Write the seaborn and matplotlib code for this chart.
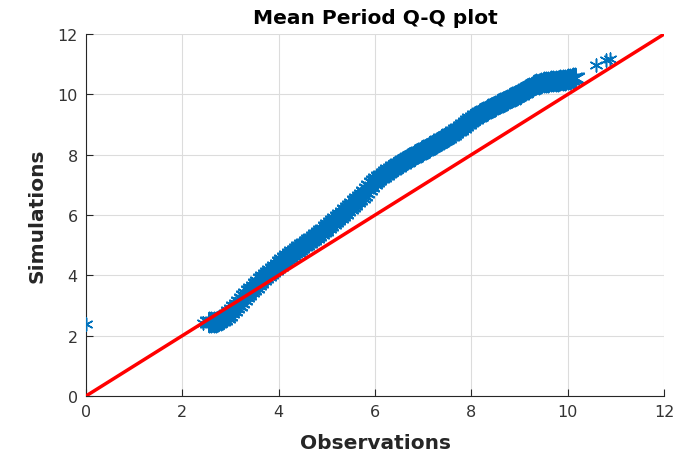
import matplotlib
matplotlib.use("Agg")
import matplotlib.pyplot as plt
import seaborn as sns
import pandas as pd

# Sorted quantiles of the mean period: observed vs simulated
observations = [
    0.00, 2.43, 2.55,
    2.60, 2.65, 2.70, 2.75, 2.80, 2.85, 2.90, 2.95, 3.00, 3.05,
    3.10, 3.15, 3.20, 3.25, 3.30, 3.35, 3.40, 3.45, 3.50, 3.55,
    3.60, 3.65, 3.70, 3.75, 3.80, 3.85, 3.90, 3.95, 4.00, 4.05,
    4.10, 4.15, 4.20, 4.25, 4.30, 4.35, 4.40, 4.45, 4.50, 4.55,
    4.60, 4.65, 4.70, 4.75, 4.80, 4.85, 4.90, 4.95, 5.00, 5.05,
    5.10, 5.15, 5.20, 5.25, 5.30, 5.35, 5.40, 5.45, 5.50, 5.55,
    5.60, 5.65, 5.70, 5.75, 5.80, 5.85, 5.90, 5.95, 6.00, 6.05,
    6.10, 6.15, 6.20, 6.25, 6.30, 6.35, 6.40, 6.45, 6.50, 6.55,
    6.60, 6.65, 6.70, 6.75, 6.80, 6.85, 6.90, 6.95, 7.00, 7.05,
    7.10, 7.15, 7.20, 7.25, 7.30, 7.35, 7.40, 7.45, 7.50, 7.55,
    7.60, 7.65, 7.70, 7.75, 7.80, 7.85, 7.90, 7.95, 8.00, 8.05,
    8.10, 8.15, 8.20, 8.25, 8.30, 8.35, 8.40, 8.45, 8.50, 8.55,
    8.60, 8.65, 8.70, 8.75, 8.80, 8.85, 8.90, 8.95, 9.00, 9.05,
    9.10, 9.15, 9.20, 9.25, 9.30, 9.35, 9.40, 9.45, 9.50, 9.55,
    9.60, 9.65, 9.70, 9.75, 9.80, 9.85, 9.90, 9.95, 10.00, 10.05,
    10.10, 10.15,
    10.58, 10.80, 10.88,
]
simulations = [
    2.40, 2.42, 2.44,
    2.44, 2.45, 2.46, 2.48, 2.52, 2.56, 2.62, 2.70, 2.78, 2.86,
    2.95, 3.03, 3.12, 3.21, 3.30, 3.38, 3.47, 3.55, 3.63, 3.71,
    3.79, 3.87, 3.94, 4.01, 4.08, 4.15, 4.22, 4.29, 4.36, 4.43,
    4.50, 4.56, 4.63, 4.70, 4.76, 4.82, 4.88, 4.94, 5.00, 5.05,
    5.11, 5.16, 5.22, 5.28, 5.34, 5.40, 5.46, 5.52, 5.59, 5.66,
    5.73, 5.80, 5.87, 5.94, 6.01, 6.08, 6.16, 6.23, 6.31, 6.38,
    6.46, 6.53, 6.61, 6.68, 6.76, 6.86, 6.97, 7.05, 7.12, 7.19,
    7.25, 7.31, 7.37, 7.43, 7.48, 7.53, 7.58, 7.63, 7.68, 7.73,
    7.78, 7.83, 7.88, 7.92, 7.97, 8.01, 8.06, 8.10, 8.15, 8.19,
    8.24, 8.28, 8.33, 8.37, 8.42, 8.46, 8.51, 8.55, 8.60, 8.65,
    8.70, 8.75, 8.81, 8.87, 8.93, 8.99, 9.05, 9.11, 9.17, 9.23,
    9.28, 9.33, 9.37, 9.42, 9.46, 9.51, 9.55, 9.59, 9.63, 9.67,
    9.71, 9.75, 9.79, 9.83, 9.87, 9.91, 9.95, 9.99, 10.03, 10.08,
    10.12, 10.17, 10.21, 10.26, 10.30, 10.33, 10.36, 10.38, 10.40, 10.41,
    10.42, 10.43, 10.44, 10.45, 10.46, 10.47, 10.48, 10.49, 10.50, 10.52,
    10.53, 10.54,
    10.96, 11.13, 11.16,
]
# Reference line y = x
ref_line = [0, 12]
ticks = [0, 2, 4, 6, 8, 10, 12]

df = pd.DataFrame({"Observations": observations, "Simulations": simulations})
# The bulk of the quantiles overlap into a dense band; the first point and
# the upper tail stand apart as single markers.
band = df.iloc[2:-3]
sparse = pd.concat([df.iloc[:2], df.iloc[-3:]])

sns.set_style("ticks")
plt.rcParams["font.family"] = ["DejaVu Sans"]

blue = "#0072BD"
fig = plt.figure(figsize=(6.99, 4.56), dpi=100)
ax = fig.add_axes([0.123, 0.1294, 0.827, 0.7936])

sns.scatterplot(data=band, x="Observations", y="Simulations", ax=ax,
                marker=(6, 2, 0), s=200, color=blue, edgecolor=blue,
                linewidth=1.5, zorder=3, legend=False)
sns.scatterplot(data=sparse, x="Observations", y="Simulations", ax=ax,
                marker=(6, 2, 0), s=85, color=blue, edgecolor=blue,
                linewidth=1.1, zorder=3, legend=False)
sns.lineplot(x=ref_line, y=ref_line, ax=ax, color="red", linewidth=2.5,
             zorder=4)

ax.set_xlim(0, 12)
ax.set_ylim(0, 12)
ax.set_xticks(ticks)
ax.set_yticks(ticks)
ax.grid(True, color="#dcdcdc", linewidth=0.8)
ax.set_axisbelow(True)
for side in ("top", "right"):
    ax.spines[side].set_visible(False)
for side in ("left", "bottom"):
    ax.spines[side].set_color("#262626")
    ax.spines[side].set_linewidth(0.8)
ax.tick_params(direction="in", length=5, width=0.8, colors="#262626",
               labelsize=11.5, pad=6)
for lbl in ax.get_xticklabels() + ax.get_yticklabels():
    lbl.set_color("#333333")

ax.set_title("Mean Period Q-Q plot", fontsize=14.5, fontweight="bold",
             color="black", pad=8)
ax.set_xlabel("Observations", fontsize=14.5, fontweight="bold",
              color="#262626", labelpad=10)
ax.set_ylabel("Simulations", fontsize=14.5, fontweight="bold",
              color="#262626", labelpad=8)

fig.savefig("out.png", dpi=100)
